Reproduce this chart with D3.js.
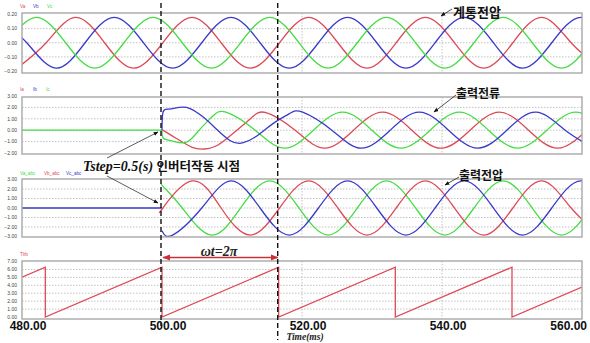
<!DOCTYPE html>
<html><head><meta charset="utf-8">
<script src="https://cdn.jsdelivr.net/npm/d3@7"></script>
<style>body{margin:0;background:#fff}svg{display:block}</style>
</head><body>
<svg id="chart" width="590" height="343"></svg>
<script>
// ---- time axis (ms) ----
const timeTicks = [480, 500, 520, 540, 560];
const timeLabels = ["480.00", "500.00", "520.00", "540.00", "560.00"];
const stepTimes = [500, 516.67];           // inverter start and one cycle later

// ---- grid (계통) voltage, kV: peaks, troughs and zero crossings ----
const gridVaTime = [479.29, 483.45, 487.62, 491.79, 495.95, 500.12, 504.29, 508.45, 512.62, 516.79, 520.95, 525.12, 529.29, 533.45, 537.62, 541.79, 545.95, 550.12, 554.29, 558.45, 562.62];
const gridVa     = [-0.18, 0, 0.18, 0, -0.18, 0, 0.18, 0, -0.18, 0, 0.18, 0, -0.18, 0, 0.18, 0, -0.18, 0, 0.18, 0, -0.18];
const gridVbTime = [476.51, 480.68, 484.85, 489.01, 493.18, 497.35, 501.51, 505.68, 509.85, 514.01, 518.18, 522.35, 526.51, 530.68, 534.85, 539.01, 543.18, 547.35, 551.51, 555.68, 559.85, 564.01];
const gridVb     = [0.18, 0, -0.18, 0, 0.18, 0, -0.18, 0, 0.18, 0, -0.18, 0, 0.18, 0, -0.18, 0, 0.18, 0, -0.18, 0, 0.18, 0];
const gridVcTime = [477.90, 482.07, 486.23, 490.40, 494.57, 498.73, 502.90, 507.07, 511.23, 515.40, 519.57, 523.73, 527.90, 532.07, 536.23, 540.40, 544.57, 548.73, 552.90, 557.07, 561.23];
const gridVc     = [0, 0.18, 0, -0.18, 0, 0.18, 0, -0.18, 0, 0.18, 0, -0.18, 0, 0.18, 0, -0.18, 0, 0.18, 0, -0.18, 0];

// ---- inverter output current (출력전류): start-up transient, then steady cycles ----
const curIaTime = [500, 500.4, 502.0, 504.3, 506.0, 508.0, 510.7, 512.8, 514.86, 519.02, 523.19, 527.36, 531.52, 535.69, 539.86, 544.02, 548.19, 552.36, 556.52, 560.69];
const curIa     = [0, -0.1, -0.7, -1.5, -1.65, -1.3, 0, 1.1, 1.55, 0, -1.58, 0, 1.58, 0, -1.58, 0, 1.58, 0, -1.58, 0];
const curIbTime = [500, 500.15, 501.0, 502.5, 504.0, 505.8, 507.6, 509.7, 511.6, 513.8, 515.9, 518.2, 520.1, 524.26, 528.43, 532.6, 536.76, 540.93, 545.1, 549.26, 553.43, 557.6, 561.76];
const curIb     = [0, 1.6, 1.85, 2.0, 1.9, 1.2, 0.2, -0.9, -1.1, -0.4, 0.6, 1.45, 1.58, 0, -1.58, 0, 1.58, 0, -1.58, 0, 1.58, 0, -1.58];
const curIcTime = [500, 500.2, 501.5, 503.5, 505.3, 507.2, 509.14, 513.31, 517.48, 521.64, 525.81, 529.98, 534.14, 538.31, 542.48, 546.64, 550.81, 554.98, 559.14, 563.31];
const curIc     = [0, -0.7, -0.95, -1.05, 0, 1.2, 1.58, 0, -1.58, 0, 1.58, 0, -1.58, 0, 1.58, 0, -1.58, 0, 1.58, 0];
const curIdleTime = [480, 500];
const curIdle     = [0, 0];

// ---- inverter output voltage (출력전압) ----
const outVaTime = [500, 500.12, 504.29, 508.45, 512.62, 516.79, 520.95, 525.12, 529.29, 533.45, 537.62, 541.79, 545.95, 550.12, 554.29, 558.45, 562.62];
const outVa     = [-0.1, 0, 2.85, 0, -2.85, 0, 2.85, 0, -2.85, 0, 2.85, 0, -2.85, 0, 2.85, 0, -2.85];
const outVbTime = [500, 501.51, 505.68, 509.85, 514.01, 518.18, 522.35, 526.51, 530.68, 534.85, 539.01, 543.18, 547.35, 551.51, 555.68, 559.85, 564.01];
const outVb     = [-2.4, -2.85, 0, 2.85, 0, -2.85, 0, 2.85, 0, -2.85, 0, 2.85, 0, -2.85, 0, 2.85, 0];
const outVcTime = [500, 500.25, 502.90, 507.07, 511.23, 515.40, 519.57, 523.73, 527.90, 532.07, 536.23, 540.40, 544.57, 548.73, 552.90, 557.07, 561.23];
const outVc     = [2.5, 2.2, 0, -2.85, 0, 2.85, 0, -2.85, 0, 2.85, 0, -2.85, 0, 2.85, 0, -2.85, 0];
const outIdleTime = [480, 500];
const outIdle     = [0, 0];

// ---- PLL phase angle (rad) ----
const thetaTime = [480, 483.33, 483.33, 500, 500, 516.67, 516.67, 533.33, 533.33, 550, 550, 560];
const theta     = [5.02, 6.28, 0, 6.28, 0, 6.28, 0, 6.28, 0, 6.28, 0, 3.77];

// ---- y tick labels per panel ----
const ticksV   = [0.2, 0.1, 0, -0.1, -0.2];
const ticksI   = [3, 2, 1, 0, -1, -2];
const ticksVo  = [3, 2, 1, 0, -1, -2, -3];
const ticksTh  = [7, 6, 5, 4, 3, 2, 1, 0];

const RED = "#dc4a58", BLUE = "#3a3ac8", GREEN = "#46dc46";

const svg = d3.select("#chart");
const x = d3.scaleLinear().domain([480, 560]).range([22, 582]);

const panels = [
  { top: 13, bottom: 73, dom: [-0.2, 0.2], rng: [71, 14.5], ticks: ticksV, fmt: d3.format(".2f"),
    legend: [["Va", RED], ["Vb", BLUE], ["Vc", GREEN]], legendY: 8, legendX: [20, 33, 47],
    series: [[gridVaTime, gridVa, RED], [gridVbTime, gridVb, BLUE], [gridVcTime, gridVc, GREEN]] },
  { top: 97, bottom: 154, dom: [-2, 3], rng: [153, 96], ticks: ticksI, fmt: d3.format(".2f"),
    legend: [["Ia", RED], ["Ib", BLUE], ["Ic", GREEN]], legendY: 91, legendX: [20, 33, 46],
    series: [[curIdleTime, curIdle, GREEN], [curIaTime, curIa, RED], [curIcTime, curIc, GREEN], [curIbTime, curIb, BLUE]] },
  { top: 179, bottom: 237, dom: [-3, 3], rng: [236.5, 179.5], ticks: ticksVo, fmt: d3.format(".2f"),
    legend: [["Va_abc", GREEN], ["Vb_abc", RED], ["Vc_abc", BLUE]], legendY: 175, legendX: [20, 44, 66],
    series: [[outIdleTime, outIdle, BLUE], [outVcTime, outVc, GREEN], [outVaTime, outVa, RED], [outVbTime, outVb, BLUE]] },
  { top: 261, bottom: 319, dom: [0, 7], rng: [317, 261.5], ticks: ticksTh, fmt: d3.format(".2f"),
    legend: [["Tlrb", RED]], legendY: 256, legendX: [20],
    series: [[thetaTime, theta, RED]], linear: true }
];

panels.forEach((p, i) => {
  const y = d3.scaleLinear().domain(p.dom).range(p.rng);
  const g = svg.append("g");
  const clipId = "clip" + i;
  svg.append("clipPath").attr("id", clipId).append("rect")
    .attr("x", x.range()[0]).attr("y", p.top).attr("width", x.range()[1] - x.range()[0]).attr("height", p.bottom - p.top);

  // dotted grid
  const inner = p.ticks.slice(1, -1);
  g.selectAll(".hg").data(inner).join("line")
    .attr("x1", x.range()[0]).attr("x2", x.range()[1])
    .attr("y1", d => y(d)).attr("y2", d => y(d))
    .attr("stroke", "#b4b4b4").attr("stroke-width", 0.8).attr("stroke-dasharray", "1.5,1.5");
  g.selectAll(".vg").data([520, 540]).join("line")
    .attr("x1", d => x(d)).attr("x2", d => x(d))
    .attr("y1", p.top).attr("y2", p.bottom)
    .attr("stroke", "#b4b4b4").attr("stroke-width", 0.8).attr("stroke-dasharray", "1.5,1.5");

  // y tick labels
  g.selectAll(".yl").data(p.ticks).join("text")
    .attr("x", 17).attr("y", d => y(d) + 1.8)
    .attr("text-anchor", "end").attr("font-family", "Liberation Sans, Arial, sans-serif")
    .attr("font-size", 5).attr("fill", "#444").text(d => p.fmt(d));

  // legend
  p.legend.forEach(([name, c], k) => {
    g.append("text").attr("x", p.legendX[k]).attr("y", p.legendY)
      .attr("font-family", "Liberation Sans, Arial, sans-serif").attr("font-size", 4.6)
      .attr("fill", c).text(name);
  });

  // series
  const line = d3.line().x(d => x(d[0])).y(d => y(d[1]))
    .curve(p.linear ? d3.curveLinear : d3.curveNatural);
  p.series.forEach(([ts, vs, c]) => {
    const pts = ts.map((t, k) => [t, vs[k]]);
    g.append("path").attr("clip-path", `url(#${clipId})`)
      .attr("d", (pts.length === 2 ? d3.line().x(d => x(d[0])).y(d => y(d[1])) : line)(pts))
      .attr("fill", "none").attr("stroke", c).attr("stroke-width", 1.3);
  });

  // frame
  g.append("rect").attr("x", x.range()[0]).attr("y", p.top)
    .attr("width", x.range()[1] - x.range()[0]).attr("height", p.bottom - p.top)
    .attr("fill", "none").attr("stroke", "#a8a8a8").attr("stroke-width", 1.4);
});

// x axis labels
svg.selectAll(".xl").data(timeTicks).join("text")
  .attr("x", (d, k) => k === timeTicks.length - 1 ? 587 : x(d) + 6)
  .attr("y", 330)
  .attr("text-anchor", (d, k) => k === timeTicks.length - 1 ? "end" : "middle")
  .attr("font-family", "Liberation Sans, Arial, sans-serif").attr("font-weight", "bold")
  .attr("font-size", 12).attr("fill", "#111")
  .text((d, k) => timeLabels[k]);

svg.append("text").attr("x", 305).attr("y", 340).attr("text-anchor", "middle")
  .attr("font-family", "Liberation Serif, Times New Roman, serif").attr("font-style", "italic")
  .attr("font-weight", "bold").attr("font-size", 9.5).attr("fill", "#222").text("Time(ms)");

// dashed markers for the inverter start and one fundamental cycle
svg.selectAll(".dash").data(stepTimes).join("line")
  .attr("x1", d => x(d) - 1).attr("x2", d => x(d) - 1)
  .attr("y1", 3).attr("y2", (d, k) => k === 0 ? 326 : 340)
  .attr("stroke", "#111").attr("stroke-width", 1.4).attr("stroke-dasharray", "5,3");

// arrow markers
const defs = svg.append("defs");
defs.append("marker").attr("id", "ah").attr("viewBox", "0 0 10 10").attr("refX", 9).attr("refY", 5)
  .attr("markerWidth", 6).attr("markerHeight", 6).attr("orient", "auto-start-reverse")
  .append("path").attr("d", "M0,1 L10,5 L0,9 z").attr("fill", "#111");
defs.append("marker").attr("id", "ahr").attr("viewBox", "0 0 10 10").attr("refX", 9).attr("refY", 5)
  .attr("markerWidth", 6).attr("markerHeight", 6).attr("orient", "auto-start-reverse")
  .append("path").attr("d", "M0,1 L10,5 L0,9 z").attr("fill", "#c8303a");

// ωt = 2π span
svg.append("line").attr("x1", x(stepTimes[0]) + 1).attr("x2", x(stepTimes[1]) - 1)
  .attr("y1", 257.5).attr("y2", 257.5).attr("stroke", "#c8303a").attr("stroke-width", 1.3)
  .attr("marker-start", "url(#ahr)").attr("marker-end", "url(#ahr)");
svg.append("text").attr("x", 219).attr("y", 255.5).attr("text-anchor", "middle")
  .attr("font-family", "Liberation Serif, Times New Roman, serif").attr("font-style", "italic")
  .attr("font-weight", "bold").attr("font-size", 14).attr("fill", "#222").text("ωt=2π");

// callouts
const korean = "Noto Sans CJK KR, sans-serif";
function callout(label, tx, ty, size, x1, y1, x2, y2) {
  svg.append("text").attr("x", tx).attr("y", ty).attr("font-family", korean)
    .attr("font-weight", "bold").attr("font-size", size).attr("fill", "#111").text(label);
  svg.append("line").attr("x1", x1).attr("y1", y1).attr("x2", x2).attr("y2", y2)
    .attr("stroke", "#222").attr("stroke-width", 0.8).attr("marker-end", "url(#ah)");
}
callout("계통전압", 453, 17, 13, 452, 9, 441, 16);
callout("출력전류", 456, 98, 12, 456, 95, 434, 112);
callout("출력전압", 459, 180, 12, 459, 177, 445, 185);

const tstep = svg.append("text").attr("x", 83).attr("y", 171).attr("fill", "#111");
tstep.append("tspan").attr("font-family", "Liberation Serif, Times New Roman, serif")
  .attr("font-style", "italic").attr("font-weight", "bold").attr("font-size", 14).text("Tstep=0.5(s) ");
tstep.append("tspan").attr("font-family", korean).attr("font-weight", "bold")
  .attr("font-size", 12.5).text("인버터작동 시점");
svg.append("line").attr("x1", 107).attr("y1", 158).attr("x2", 158).attr("y2", 132)
  .attr("stroke", "#333").attr("stroke-width", 0.8).attr("marker-end", "url(#ah)");
svg.append("line").attr("x1", 107).attr("y1", 176).attr("x2", 158).attr("y2", 203)
  .attr("stroke", "#333").attr("stroke-width", 0.8).attr("marker-end", "url(#ah)");
</script>
</body></html>
